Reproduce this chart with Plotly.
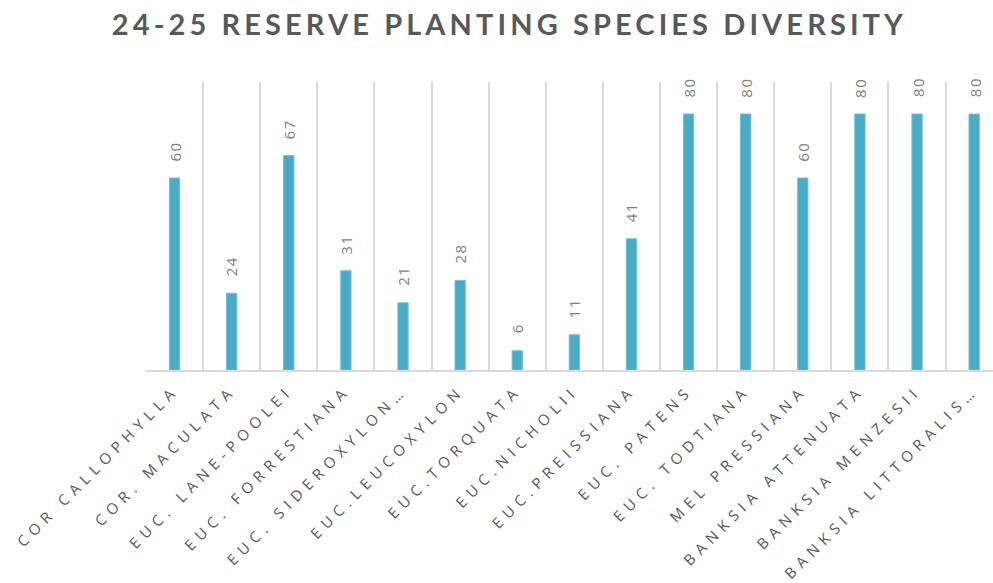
import plotly.graph_objects as go

categories = ["COR CALLOPHYLLA", "COR. MACULATA", "EUC. LANE-POOLEI", "EUC. FORRESTIANA",
              "EUC. SIDEROXYLON…", "EUC.LEUCOXYLON", "EUC.TORQUATA", "EUC.NICHOLII",
              "EUC.PREISSIANA", "EUC. PATENS", "EUC. TODTIANA", "MEL PRESSIANA",
              "BANKSIA ATTENUATA", "BANKSIA MENZESII", "BANKSIA LITTORALIS…"]
values = [60, 24, 67, 31, 21, 28, 6, 11, 41, 80, 80, 60, 80, 80, 80]
title_text = "24-25 RESERVE PLANTING SPECIES DIVERSITY"

fig = go.Figure(go.Bar(
    x=categories, y=values,
    marker=dict(color="#4aabc6", line=dict(color="#6cc0d8", width=1)),
    cliponaxis=False,
    hoverinfo="x+y",
))

for c, v in zip(categories, values):
    fig.add_annotation(x=c, y=v, text=str(v), showarrow=False, textangle=-90,
                       xanchor="center", yanchor="bottom", yshift=16,
                       font=dict(family="Open Sans", size=15, color="#7f7f7f"))

fig.update_layout(
    width=993, height=583,
    paper_bgcolor="white", plot_bgcolor="white",
    margin=dict(l=146, r=0, t=82, b=213, autoexpand=False),
    bargap=0.82,
    showlegend=False,
    title=dict(text="<b>" + title_text + "</b>", x=0.513, xanchor="center", y=0.958, yanchor="middle",
               font=dict(family="Lato", size=29, color="#595959")),
    xaxis=dict(
        type="category", range=[-0.5, 14.33], automargin=False,
        tickson="boundaries", showgrid=True, gridcolor="#d9d9d9", gridwidth=1.5,
        showline=True, linecolor="#d9d9d9", linewidth=1.5,
        ticks="", tickangle=-45, ticklabelstandoff=4,
        tickfont=dict(family="Open Sans", size=15, color="#595959"),
    ),
    yaxis=dict(range=[0, 90], showgrid=False, showticklabels=False, zeroline=False,
               showline=False, automargin=False),
)

post = ("var s=document.createElement('style');"
        "s.textContent='html,body{margin:0;padding:0;overflow:hidden}"
        ".xtick text{letter-spacing:5.8px}.gtitle{letter-spacing:4.1px}"
        ".annotation-text{letter-spacing:1.5px}';"
        "document.head.appendChild(s);")
fig.write_html("out.html", post_script=post, config={"displayModeBar": False})
